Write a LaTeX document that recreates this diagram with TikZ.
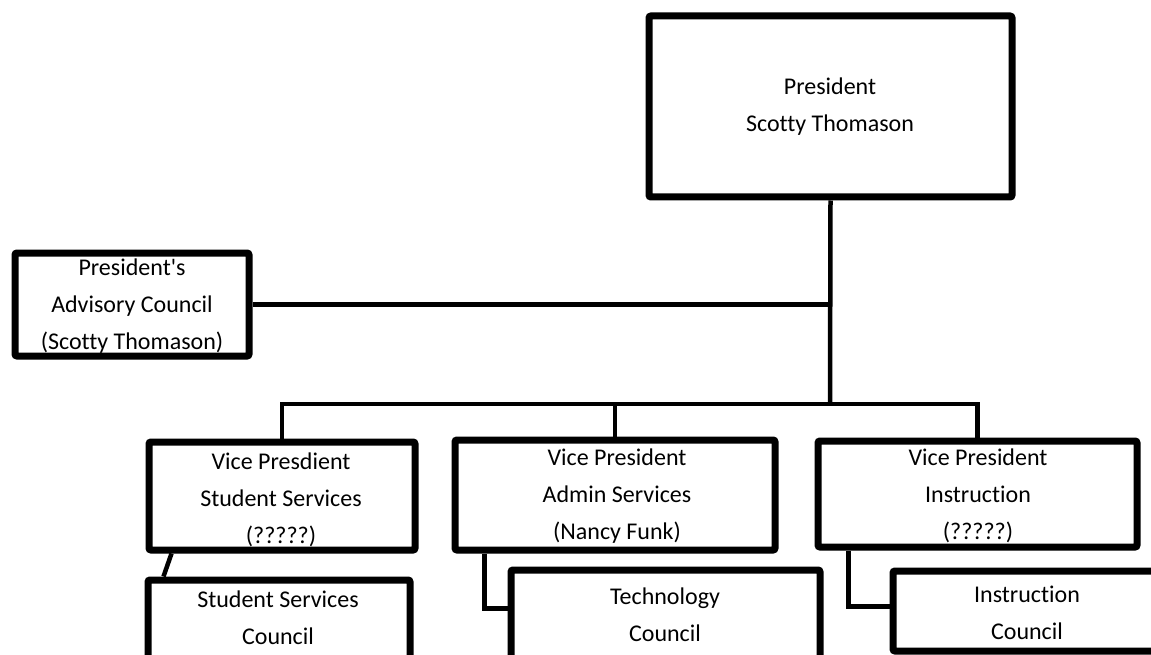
\documentclass[tikz,border=0pt]{standalone}
\usepackage{fontspec}
\setmainfont{Carlito}[Ligatures={TeX,NoCommon}]
\usetikzlibrary{shadows,calc}
\begin{document}
\begin{tikzpicture}[x=1pt,y=-1pt,
  orgbox/.style={draw=black, line width=7pt, fill=white, rounded corners=2pt,
    rectangle, inner sep=0pt,
    drop shadow={shadow xshift=2pt, shadow yshift=-3pt, fill=black!45, opacity=0.5}},
  lbl/.style={align=center, inner sep=0pt, font=\fontsize{24}{37}\selectfont},
  conn/.style={draw=black, line width=4.5pt}]
\useasboundingbox (0,0) rectangle (1151,655);
\fill[white] (0,0) rectangle (1151,655);
\clip (0,0) rectangle (1151,655);

% boxes
\node[orgbox, minimum width=363pt, minimum height=181pt] (pres) at (830.5,106.5) {};
\node[orgbox, minimum width=234pt, minimum height=103pt] (adv) at (132,304.5) {};
\node[orgbox, minimum width=266pt, minimum height=108pt] (vpss) at (282,496) {};
\node[orgbox, minimum width=262pt, minimum height=100pt] (ssc) at (279,630) {};
\node[orgbox, minimum width=320pt, minimum height=110pt] (vpad) at (615,495) {};
\node[orgbox, minimum width=309pt, minimum height=110pt] (tc) at (665.5,625) {};
\node[orgbox, minimum width=319pt, minimum height=106pt] (vpin) at (977.5,494) {};
\node[orgbox, minimum width=277pt, minimum height=80pt] (ic) at (1031.5,611) {};

% labels
\node[lbl] (presT) at (830,107) {President\\Scotty Thomason};
\node[lbl] (advT) at (132,306) {President\textquotesingle s\\Advisory Council\\(Scotty Thomason)};
\node[lbl] (vpssT) at (281,500) {Vice Presdient\\Student Services\\(?????)};
\node[lbl] (sscT) at (278,617.5) {Student Services\\Council};
\node[lbl] (vpadT) at (617,496) {Vice President\\Admin Services\\(Nancy Funk)};
\node[lbl] (tcT) at (665,614.5) {Technology\\Council};
\node[lbl] (vpinT) at (978,496) {Vice President\\Instruction\\(?????)};
\node[lbl] (icT) at (1027,612.5) {Instruction\\Council};

% connectors
\coordinate (bus) at (830,404);
\draw[conn] (pres.south) -- (bus);
\draw[conn] (adv.east) -- (adv.east -| pres.south);
\draw[conn] (vpss.north) |- (bus) -| (vpin.north);
\draw[conn] (vpad.north) -- (vpad.north |- bus);
\draw[conn] ([xshift=26pt]vpss.south west) -- ([xshift=19pt]ssc.north west);
\draw[conn] ([xshift=33pt]vpad.south west) |- ([yshift=-42pt]tc.north west);
\draw[conn] ([xshift=34pt]vpin.south west) |- ([yshift=-39pt]ic.north west);
\end{tikzpicture}
\end{document}
